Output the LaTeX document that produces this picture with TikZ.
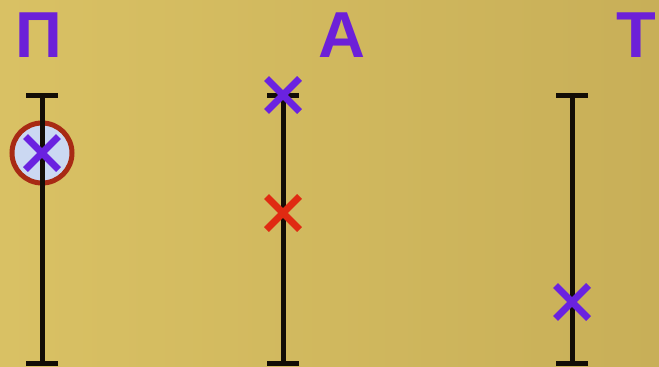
\documentclass[tikz,border=0pt]{standalone}
\usepackage{fontspec}
\setmainfont{Liberation Sans}
\usetikzlibrary{positioning,arrows.meta,shapes.misc}
\definecolor{bgleft}{HTML}{D9C164}
\definecolor{bgmid}{HTML}{E3D27A}
\definecolor{bgright}{HTML}{C8AF58}
\definecolor{letviolet}{HTML}{6C20D8}
\definecolor{crossviolet}{HTML}{6A22E0}
\definecolor{crossred}{HTML}{E02A12}
\definecolor{ringred}{HTML}{A82A14}
\definecolor{ringfill}{HTML}{CBD8F2}

\begin{document}
\begin{tikzpicture}[
        x=1pt, y=-1pt,
        letter/.style ={font=\fontsize{65}{65}\selectfont\bfseries, text=letviolet, inner sep=0pt, anchor=north},
        ruler/.style  ={line width=5pt, black!90!brown, {Bar[width=32pt]}-{Bar[width=32pt]}},
        crossmk/.style={cross out, draw, line width=7pt, minimum size=26pt, inner sep=0pt},
        ring/.style   ={circle, draw=ringred, fill=ringfill, line width=5pt, minimum size=60pt, inner sep=0pt}
    ]
        % background, 659 x 367
        \fill[left color=bgleft, middle color=bgmid, right color=bgright] (0,0) rectangle (659,367);
        \useasboundingbox (0,0) rectangle (659,367);
        % ring behind the first ruler
        \node[ring] (ringP) at (42,153) {};
        % three rulers with their letters
        \foreach \nm/\xx/\lt/\lx in {P/42/П/39, A/283/А/342, T/572/Т/636}{
            \node[letter] (let\nm) at (\lx,13) {\lt};
            \coordinate (top\nm) at (\xx,93);
            \coordinate (bot\nm) at (\xx,366);
            \draw[ruler] (top\nm) -- (bot\nm);
        }
        % crosses
        \node[crossmk, draw=crossviolet] (xP)  at (42,153)  {};
        \node[crossmk, draw=crossviolet] (xA1) at (283,95)  {};
        \node[crossmk, draw=crossred]    (xA2) at (283,213) {};
        \node[crossmk, draw=crossviolet] (xT)  at (572,302) {};
    \end{tikzpicture}
\end{document}
